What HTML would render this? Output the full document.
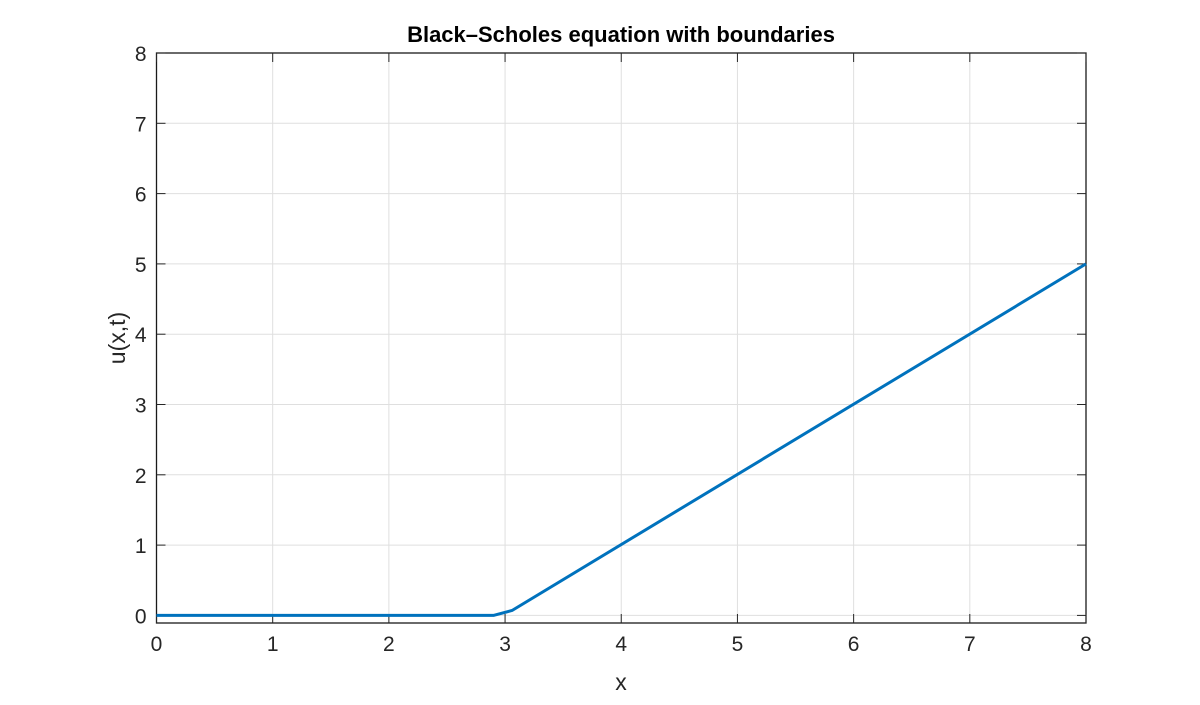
<!DOCTYPE html>
<html><head><meta charset="utf-8"><style>
body{margin:0;background:#fff;width:1200px;height:700px;overflow:hidden}
svg text{font-family:"Liberation Sans",sans-serif;fill:#262626}
svg text.title{fill:#000}
</style></head><body>
<svg id="chart" width="1200" height="700" xmlns="http://www.w3.org/2000/svg"></svg>
<script>
const xTicks=[0,1,2,3,4,5,6,7,8];
const yTicks=[0,1,2,3,4,5,6,7,8];
const seriesX=[0,2.9,3.06,8];
const seriesY=[0,0,0.07,5];
const L=156.5,R=1086,T=53,B=623,xmin=0,xmax=8,ymin=-0.108,ymax=8;
const sx=v=>L+(v-xmin)/(xmax-xmin)*(R-L);
const sy=v=>B-(v-ymin)/(ymax-ymin)*(B-T);
const svg=document.getElementById('chart');
const NS='http://www.w3.org/2000/svg';
function mk(t,a,txt){const e=document.createElementNS(NS,t);for(const k in a)e.setAttribute(k,a[k]);if(txt!==undefined)e.textContent=txt;svg.appendChild(e);return e;}
mk('rect',{x:L,y:T,width:R-L,height:B-T,fill:'#fff'});
xTicks.forEach(v=>{const g=mk('line',{x1:sx(v),x2:sx(v),y1:T,y2:B,stroke:'#dfdfdf','stroke-width':1});
});
yTicks.forEach(v=>{const g=mk('line',{x1:L,x2:R,y1:sy(v),y2:sy(v),stroke:'#dfdfdf','stroke-width':1});
});
const fr=mk('rect',{x:L,y:T,width:R-L,height:B-T,fill:'none',stroke:'#1a1a1a','stroke-width':1.3});

xTicks.forEach(v=>{
const a=mk('line',{x1:sx(v),x2:sx(v),y1:B,y2:B-9,stroke:'#262626'});
const b=mk('line',{x1:sx(v),x2:sx(v),y1:T,y2:T+9,stroke:'#262626'});
const t=mk('text',{x:sx(v),y:B+28,'text-anchor':'middle','font-size':21},String(v));});
yTicks.forEach(v=>{
const a=mk('line',{x1:L,x2:L+9,y1:sy(v),y2:sy(v),stroke:'#262626'});
const b=mk('line',{x1:R,x2:R-9,y1:sy(v),y2:sy(v),stroke:'#262626'});
const t=mk('text',{x:L-10,y:sy(v)+8,'text-anchor':'end','font-size':21},String(v));});
const p=mk('polyline',{points:seriesX.map((x,i)=>sx(x)+','+sy(seriesY[i])).join(' '),fill:'none',stroke:'#0072BD','stroke-width':3,'stroke-linejoin':'round'});

const tt=mk('text',{x:621,y:42,'text-anchor':'middle','font-size':22,'font-weight':'bold','class':'title'},'Black–Scholes equation with boundaries');

const xl=mk('text',{x:621,y:690,'text-anchor':'middle','font-size':23},'x');

const yl=mk('text',{x:125,y:338,'text-anchor':'middle','font-size':23,transform:'rotate(-90 125 338)'},'u(x,t)');

</script>
</body></html>
